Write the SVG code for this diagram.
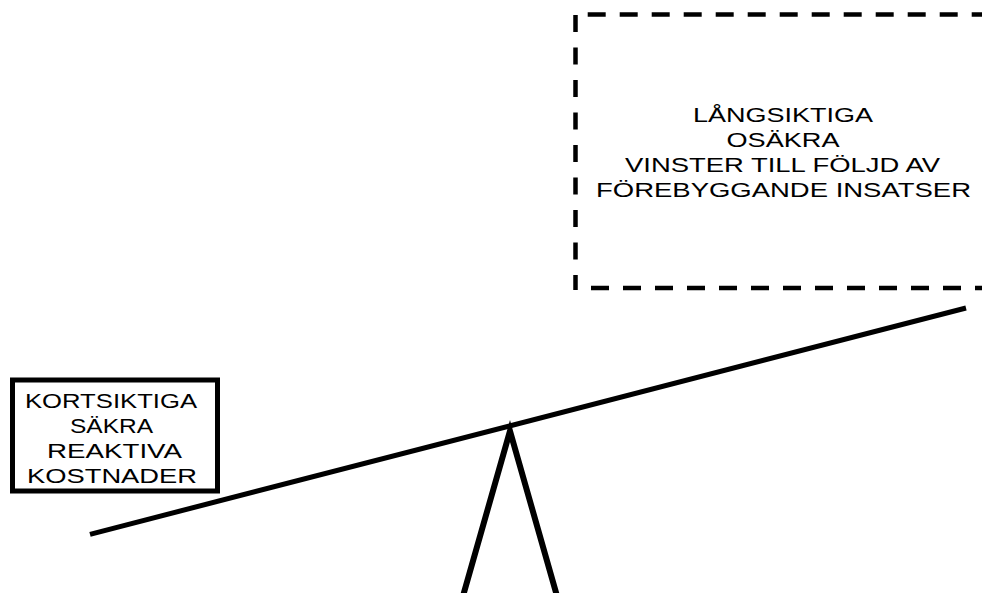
<svg xmlns="http://www.w3.org/2000/svg" width="982" height="593" viewBox="0 0 982 593">
  <style>
    .t { font-family: "Liberation Sans", Arial, sans-serif; font-size: 21px; fill: #000; text-anchor: middle; }
    .dash { stroke: #000; fill: none; stroke-width: 4.5; }
  </style>
  <rect x="0" y="0" width="982" height="593" fill="#fff"/>
  <g id="gains">
    <line class="dash" x1="587.7" y1="14.5" x2="990" y2="14.5" stroke-dasharray="18 14"/>
    <line class="dash" x1="591" y1="288" x2="990" y2="288" stroke-dasharray="18 14"/>
    <line class="dash" x1="575.5" y1="15" x2="575.5" y2="290" stroke-dasharray="17 15.5"/>
    <text class="t" x="783" y="121.7" textLength="180" lengthAdjust="spacingAndGlyphs">LÅNGSIKTIGA</text>
    <text class="t" x="783" y="146.7" textLength="113" lengthAdjust="spacingAndGlyphs">OSÄKRA</text>
    <text class="t" x="782.5" y="171.7" textLength="315" lengthAdjust="spacingAndGlyphs">VINSTER TILL FÖLJD AV</text>
    <text class="t" x="783.5" y="196.7" textLength="375" lengthAdjust="spacingAndGlyphs">FÖREBYGGANDE INSATSER</text>
  </g>
  <g id="costs">
    <rect x="12.5" y="380" width="205" height="111" fill="#fff" stroke="#000" stroke-width="5"/>
    <text class="t" x="111" y="408.3" textLength="172" lengthAdjust="spacingAndGlyphs">KORTSIKTIGA</text>
    <text class="t" x="111.5" y="433" textLength="83" lengthAdjust="spacingAndGlyphs">SÄKRA</text>
    <text class="t" x="114.5" y="458.3" textLength="135" lengthAdjust="spacingAndGlyphs">REAKTIVA</text>
    <text class="t" x="112" y="483.3" textLength="170" lengthAdjust="spacingAndGlyphs">KOSTNADER</text>
  </g>
  <g id="connectors">
    <line x1="90" y1="534.3" x2="966" y2="308" stroke="#000" stroke-width="5"/>
    <polygon points="510,431 557,596 463,596" fill="none" stroke="#000" stroke-width="6" stroke-linejoin="miter" stroke-miterlimit="20"/>
  </g>
</svg>
